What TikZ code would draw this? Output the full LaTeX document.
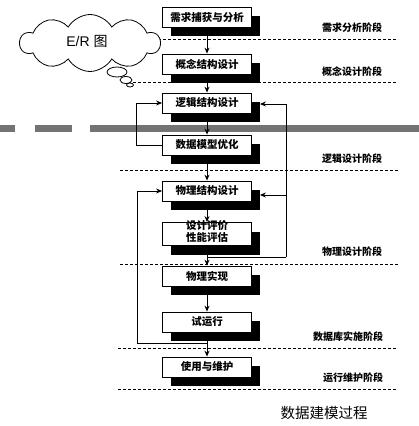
\documentclass[tikz,border=0pt]{standalone}
\usepackage{fontspec}
\newfontfamily\cjk{Noto Sans CJK SC}
\newfontfamily\lsans{Liberation Sans}
\usetikzlibrary{shapes.symbols,shapes.geometric,shadows,arrows.meta}
\begin{document}
\begin{tikzpicture}[x=1pt,y=-1pt,
  box/.style={draw=black, line width=0.8pt, fill=white, minimum width=89pt, minimum height=20pt, inner sep=0pt,
    font=\cjk\bfseries\fontsize{10.5}{12}\selectfont,
    general shadow={fill=black, shadow xshift=8pt, shadow yshift=-9pt}},
  arr/.style={-{Stealth[length=6pt,width=5pt]}, line width=1pt},
  stage/.style={font=\cjk\bfseries\fontsize{10}{12}\selectfont},
  sep/.style={dash pattern=on 3pt off 2pt, line width=0.6pt},
  bigsep/.style={line width=7pt, draw=black!55},
  bubble/.style={ellipse, draw, line width=0.8pt, fill=white, inner sep=0pt}
]
\useasboundingbox (0,0) rectangle (419,426);
\fill[white] (0,0) rectangle (419,426);

% thick gray dashed band
\draw[bigsep] (0,128) -- (15,128);
\draw[bigsep] (35,128) -- (72,128);
\draw[bigsep] (90,128) -- (419,128);

% separators
\coordinate (s1a) at (158,39);  \coordinate (s1b) at (398,39);
\coordinate (s2a) at (133,82);  \coordinate (s2b) at (398,82);
\coordinate (s3a) at (120,170); \coordinate (s3b) at (398,170);
\coordinate (s4a) at (120,264); \coordinate (s4b) at (398,264);
\coordinate (s5a) at (118,348); \coordinate (s5b) at (397,348);
\coordinate (s6a) at (118,389); \coordinate (s6b) at (397,389);
\draw[sep] (s1a) -- (s1b);
\draw[sep] (s2a) -- (s2b);
\draw[sep] (s3a) -- (s3b);
\draw[sep] (s4a) -- (s4b);
\draw[sep] (s5a) -- (s5b);
\draw[sep] (s6a) -- (s6b);

% cloud
\node[cloud, cloud puffs=10, cloud puff arc=120, aspect=2.4, draw, line width=0.8pt, fill=white,
  minimum width=140pt, minimum height=57pt, inner sep=0pt] (cloud) at (90,43) {};
\node (ertext) at (87,41) {\lsans\fontsize{14}{16}\selectfont E/R {\cjk 图}};
\node[bubble, minimum width=20pt, minimum height=10pt] (bub1) at (117,72) {};
\node[bubble, minimum width=12pt, minimum height=7pt] (bub2) at (126,80) {};
\node[bubble, minimum width=7pt, minimum height=4pt] (bub3) at (130,85) {};

% boxes
\node[box] (b1) at (207,17) {需求捕获与分析};
\node[box] (b2) at (207,64) {概念结构设计};
\node[box] (b3) at (207,103) {逻辑结构设计};
\node[box] (b4) at (207,145) {数据模型优化};
\node[box] (b5) at (207,191) {物理结构设计};
\node[box, minimum height=23pt] (b6) at (207,234) {};
\node[align=center, inner sep=0pt, font=\cjk\bfseries\fontsize{10.5}{12}\selectfont] (b6t) at (207,231) {设计评价\\性能评估};
\node[box] (b7) at (207,276) {物理实现};
\node[box] (b8) at (207,322) {试运行};
\node[box] (b9) at (207,367) {使用与维护};

% main flow
\draw[arr] (b1) -- (b2);
\draw[arr] (b2) -- (b3);
\draw[arr] (b3) -- (b4);
\draw[arr] (b4) -- (b5);
\draw[arr] (b5) -- (b6);
\draw[arr] (b6) -- (b7);
\draw[arr] (b7) -- (b8);
\draw[arr] (b8) -- (b9);

% feedback loops
\draw[arr] (b4.west) -- ++(-26,0) |- (b3.west);
\coordinate (r1) at (207,257);
\coordinate (r2) at (286,257);
\coordinate (rj) at (286,195);
\draw[line width=1pt] (r1) -- (r2);
\draw[arr] (r2) |- ([xshift=8pt,yshift=-1pt]b3.east);
\draw[arr] (rj) -- ([xshift=8pt,yshift=-4pt]b5.east);
\coordinate (l1) at (207,343);
\draw[arr] (l1) -- (137,343) |- (b5.west);

% stage labels
\node[stage] (t1) at (352,28) {需求分析阶段};
\node[stage] (t2) at (352,72) {概念设计阶段};
\node[stage] (t3) at (352,159) {逻辑设计阶段};
\node[stage] (t4) at (352,252) {物理设计阶段};
\node[stage] (t5) at (348,337) {数据库实施阶段};
\node[stage] (t6) at (353,378) {运行维护阶段};

\node[font=\cjk\fontsize{14.5}{16}\selectfont] (cap) at (324,413) {数据建模过程};
\end{tikzpicture}
\end{document}
